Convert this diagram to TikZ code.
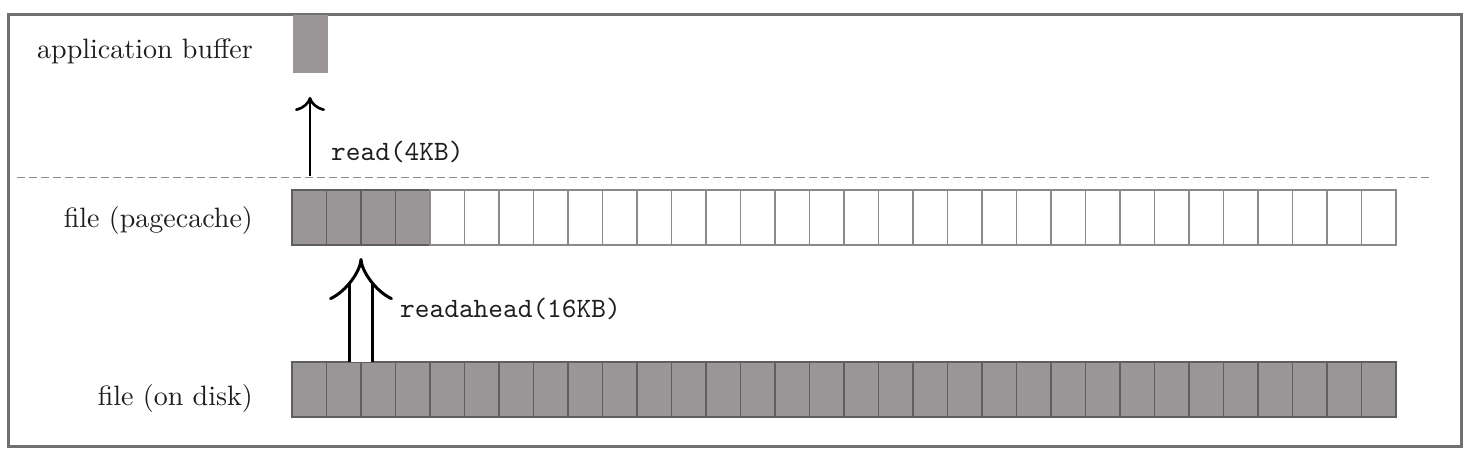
\documentclass[tikz,border=0pt]{standalone}
\usepackage{fontspec}
\usetikzlibrary{arrows.meta}
\newfontfamily\lmten{lmroman10-regular}[Extension=.otf]
\newfontfamily\lmttten{lmmono10-regular}[Extension=.otf]
\definecolor{framegray}{HTML}{707070}
\definecolor{cellfill}{HTML}{9A9698}
\definecolor{celledge}{HTML}{5E5E5E}
\definecolor{emptyedge}{HTML}{8A8A8A}
\definecolor{txt}{HTML}{1E1E1E}
\tikzset{
  lbl/.style={anchor=east, text=txt, font=\lmten\fontsize{28}{32}\selectfont, inner sep=0pt},
  code/.style={anchor=west, text=txt, font=\lmttten\fontsize{28}{32}\selectfont, inner sep=0pt},
  fullcell/.style={draw=celledge, fill=cellfill, line width=1.4pt, minimum width=34.5pt, minimum height=55pt, inner sep=0pt, outer sep=0pt},
  emptycell/.style={draw=emptyedge, fill=white, line width=1.2pt, minimum width=34.5pt, minimum height=55pt, inner sep=0pt, outer sep=0pt},
  arr/.style={line width=2.6pt, -{To[length=14pt,width=30pt]}},
  dbl/.style={line width=3pt, double distance=20pt, -{Implies}},
}
\begin{document}
\begin{tikzpicture}[x=1pt,y=-1pt]
\useasboundingbox (0,0) rectangle (1479,461);
\draw[framegray, line width=3pt] (8,14) rectangle (1461,446);
% application buffer
\node[fullcell, draw=none, minimum height=58pt, anchor=north west] (buf) at (293,15) {};
\node[lbl] (lbuf) at (253,51) {application buffer};
% dashed separator
\coordinate (dl) at (17,177);
\coordinate (dr) at (1432,177);
\draw[emptyedge, line width=1pt, dash pattern=on 8pt off 4pt] (dl) -- (dr);
% page cache row
\foreach \i in {1,...,32} {
  \ifnum\i<5
    \node[fullcell, anchor=north west] (p\i) at ({292+34.5*(\i-1)},190) {};
  \else
    \node[emptycell, anchor=north west] (p\i) at ({292+34.5*(\i-1)},190) {};
  \fi
}
\node[lbl] (lpc) at (253,220) {file (pagecache)};
% disk row
\foreach \i in {1,...,32} {
  \node[fullcell, anchor=north west] (d\i) at ({292+34.5*(\i-1)},362) {};
}
\node[lbl] (ldisk) at (253,398) {file (on disk)};
% read arrow
\coordinate (rs) at (310,176);
\draw[arr, shorten >=0pt] (rs) -- (310,97) coordinate (rt);
\node[code] (lread) at (331,152) {read(4KB)};
% readahead arrow
\draw[dbl, shorten >=13pt] (d2.north east) -- (p2.south east);
\node[code] (lra) at (400,309) {readahead(16KB)};
\end{tikzpicture}
\end{document}
